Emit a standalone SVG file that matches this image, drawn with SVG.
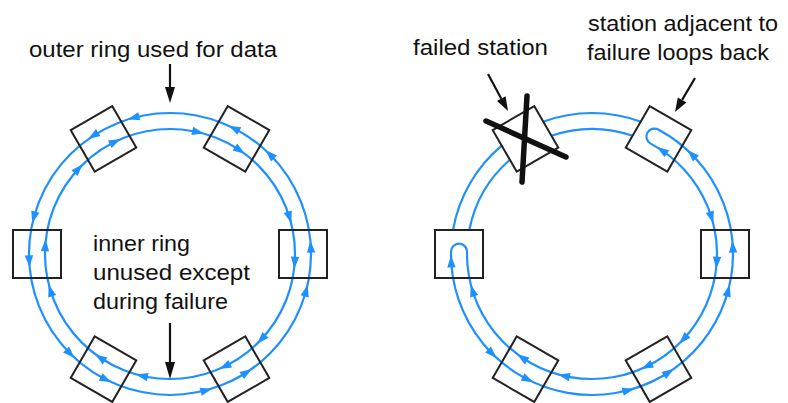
<svg xmlns="http://www.w3.org/2000/svg" xmlns:xlink="http://www.w3.org/1999/xlink" width="788" height="403" viewBox="0 0 788 403">
<style>
.ring{fill:none;stroke:#1e90ff;stroke-width:2.2}
.box{fill:none;stroke:#222;stroke-width:2}
.lbl{font-family:"Liberation Sans",Arial,sans-serif;font-size:22px;fill:#111}
.ptr{stroke:#111;stroke-width:2.2;fill:none}
.ptrh{fill:#111}
.ah{fill:#1e90ff}
.x{stroke:#111;stroke-width:5.5;stroke-linecap:round}
</style>
<defs>
<path id="ah" d="M6,0 L-6,-4.2 L-6,4.2 Z"/>
<rect id="st" x="-24" y="-24" width="48" height="48"/>
</defs>
<rect width="788" height="403" fill="#fff"/>

<!-- connectors (rings, flow arrows, pointers) -->
<g id="connectors">
  <!-- left diagram rings -->
  <circle class="ring" cx="170" cy="254" r="141"/>
  <circle class="ring" cx="170" cy="254" r="125"/>
  <g class="ah" transform="translate(170,254)">
    <use xlink:href="#ah" transform="rotate(15) translate(141,0) rotate(-90)"/>
    <use xlink:href="#ah" transform="rotate(357) translate(141,0) rotate(-90)"/>
    <use xlink:href="#ah" transform="rotate(75) translate(141,0) rotate(-90)"/>
    <use xlink:href="#ah" transform="rotate(57) translate(141,0) rotate(-90)"/>
    <use xlink:href="#ah" transform="rotate(135) translate(141,0) rotate(-90)"/>
    <use xlink:href="#ah" transform="rotate(117) translate(141,0) rotate(-90)"/>
    <use xlink:href="#ah" transform="rotate(195) translate(141,0) rotate(-90)"/>
    <use xlink:href="#ah" transform="rotate(177) translate(141,0) rotate(-90)"/>
    <use xlink:href="#ah" transform="rotate(255) translate(141,0) rotate(-90)"/>
    <use xlink:href="#ah" transform="rotate(237) translate(141,0) rotate(-90)"/>
    <use xlink:href="#ah" transform="rotate(315) translate(141,0) rotate(-90)"/>
    <use xlink:href="#ah" transform="rotate(297) translate(141,0) rotate(-90)"/>
    <use xlink:href="#ah" transform="rotate(343) translate(125,0) rotate(90)"/>
    <use xlink:href="#ah" transform="rotate(4) translate(125,0) rotate(90)"/>
    <use xlink:href="#ah" transform="rotate(43) translate(125,0) rotate(90)"/>
    <use xlink:href="#ah" transform="rotate(64) translate(125,0) rotate(90)"/>
    <use xlink:href="#ah" transform="rotate(103) translate(125,0) rotate(90)"/>
    <use xlink:href="#ah" transform="rotate(124) translate(125,0) rotate(90)"/>
    <use xlink:href="#ah" transform="rotate(163) translate(125,0) rotate(90)"/>
    <use xlink:href="#ah" transform="rotate(184) translate(125,0) rotate(90)"/>
    <use xlink:href="#ah" transform="rotate(223) translate(125,0) rotate(90)"/>
    <use xlink:href="#ah" transform="rotate(244) translate(125,0) rotate(90)"/>
    <use xlink:href="#ah" transform="rotate(283) translate(125,0) rotate(90)"/>
    <use xlink:href="#ah" transform="rotate(304) translate(125,0) rotate(90)"/>
  </g>

  <!-- right diagram: wrapped ring with loop-backs -->
  <path class="ring" d="M451.02,251.54 A141,141 0 1,0 658.20,129.50 A8,8 0 0,0 650.68,143.63 A125,125 0 1,1 467.02,251.82 A8,8 0 0,0 451.02,251.54"/>
  <!-- unused segments around failed station -->
  <path class="ring" d="M453.06,230 A141,141 0 0,1 501.74,145.67"/>
  <path class="ring" d="M469.33,230 A125,125 0 0,1 509.87,159.77"/>
  <path class="ring" d="M543.31,121.67 A141,141 0 0,1 640.69,121.67"/>
  <path class="ring" d="M551.45,135.76 A125,125 0 0,1 632.55,135.76"/>
  <g class="ah" transform="translate(592,254)">
    <use xlink:href="#ah" transform="rotate(177) translate(141,0) rotate(90)"/>
    <use xlink:href="#ah" transform="rotate(135) translate(141,0) rotate(-90)"/>
    <use xlink:href="#ah" transform="rotate(117) translate(141,0) rotate(-90)"/>
    <use xlink:href="#ah" transform="rotate(75) translate(141,0) rotate(-90)"/>
    <use xlink:href="#ah" transform="rotate(57) translate(141,0) rotate(-90)"/>
    <use xlink:href="#ah" transform="rotate(15) translate(141,0) rotate(-90)"/>
    <use xlink:href="#ah" transform="rotate(357) translate(141,0) rotate(-90)"/>
    <use xlink:href="#ah" transform="rotate(315) translate(141,0) rotate(-90)"/>
    <use xlink:href="#ah" transform="rotate(163) translate(125,0) rotate(90)"/>
    <use xlink:href="#ah" transform="rotate(124) translate(125,0) rotate(90)"/>
    <use xlink:href="#ah" transform="rotate(103) translate(125,0) rotate(90)"/>
    <use xlink:href="#ah" transform="rotate(64) translate(125,0) rotate(90)"/>
    <use xlink:href="#ah" transform="rotate(43) translate(125,0) rotate(90)"/>
    <use xlink:href="#ah" transform="rotate(4) translate(125,0) rotate(90)"/>
    <use xlink:href="#ah" transform="rotate(343) translate(125,0) rotate(90)"/>
    <use xlink:href="#ah" transform="rotate(304) translate(125,0) rotate(-90)"/>
  </g>

  <!-- label pointers -->
  <g id="ptr-outer"><line class="ptr" x1="170" y1="64" x2="170" y2="90"/><polygon class="ptrh" points="165,87 175,87 170,103"/></g>
  <g id="ptr-inner"><line class="ptr" x1="170" y1="323" x2="170" y2="365"/><polygon class="ptrh" points="165,362 175,362 170,379"/></g>
  <g id="ptr-failed"><line class="ptr" x1="488" y1="74" x2="501.3" y2="98.7"/><polygon class="ptrh" points="497,101 505.6,96.3 508,111"/></g>
  <g id="ptr-loop"><line class="ptr" x1="695" y1="78" x2="682.1" y2="99.9"/><polygon class="ptrh" points="677.8,97.4 686.4,102.5 675,112"/></g>
</g>

<!-- left diagram stations -->
<g id="L-station-right" transform="translate(170,254) rotate(0) translate(133,0)"><use xlink:href="#st" class="box"/></g>
<g id="L-station-bottomright" transform="translate(170,254) rotate(60) translate(133,0)"><use xlink:href="#st" class="box"/></g>
<g id="L-station-bottomleft" transform="translate(170,254) rotate(120) translate(133,0)"><use xlink:href="#st" class="box"/></g>
<g id="L-station-left" transform="translate(170,254) rotate(180) translate(133,0)"><use xlink:href="#st" class="box"/></g>
<g id="L-station-topleft" transform="translate(170,254) rotate(240) translate(133,0)"><use xlink:href="#st" class="box"/></g>
<g id="L-station-topright" transform="translate(170,254) rotate(300) translate(133,0)"><use xlink:href="#st" class="box"/></g>

<!-- right diagram stations -->
<g id="R-station-right" transform="translate(592,254) rotate(0) translate(133,0)"><use xlink:href="#st" class="box"/></g>
<g id="R-station-bottomright" transform="translate(592,254) rotate(60) translate(133,0)"><use xlink:href="#st" class="box"/></g>
<g id="R-station-bottomleft" transform="translate(592,254) rotate(120) translate(133,0)"><use xlink:href="#st" class="box"/></g>
<g id="R-station-left" transform="translate(592,254) rotate(180) translate(133,0)"><use xlink:href="#st" class="box"/></g>
<g id="R-station-failed">
  <g transform="translate(592,254) rotate(240) translate(133,0)"><use xlink:href="#st" class="box"/></g>
  <line class="x" x1="527" y1="96" x2="522" y2="182"/>
  <line class="x" x1="486" y1="121" x2="566" y2="157"/>
</g>
<g id="R-station-topright" transform="translate(592,254) rotate(300) translate(133,0)"><use xlink:href="#st" class="box"/></g>

<!-- labels -->
<g id="label-outer"><text class="lbl" x="29" y="57" textLength="248" lengthAdjust="spacingAndGlyphs">outer ring used for data</text></g>
<g id="label-inner">
  <text class="lbl" x="93" y="251" textLength="97" lengthAdjust="spacingAndGlyphs">inner ring</text>
  <text class="lbl" x="93" y="280" textLength="157" lengthAdjust="spacingAndGlyphs">unused except</text>
  <text class="lbl" x="93" y="309" textLength="135" lengthAdjust="spacingAndGlyphs">during failure</text>
</g>
<g id="label-failed"><text class="lbl" x="413" y="55" textLength="135" lengthAdjust="spacingAndGlyphs">failed station</text></g>
<g id="label-loop">
  <text class="lbl" x="588" y="31" textLength="190" lengthAdjust="spacingAndGlyphs">station adjacent to</text>
  <text class="lbl" x="587" y="60" textLength="182" lengthAdjust="spacingAndGlyphs">failure loops back</text>
</g>
</svg>
